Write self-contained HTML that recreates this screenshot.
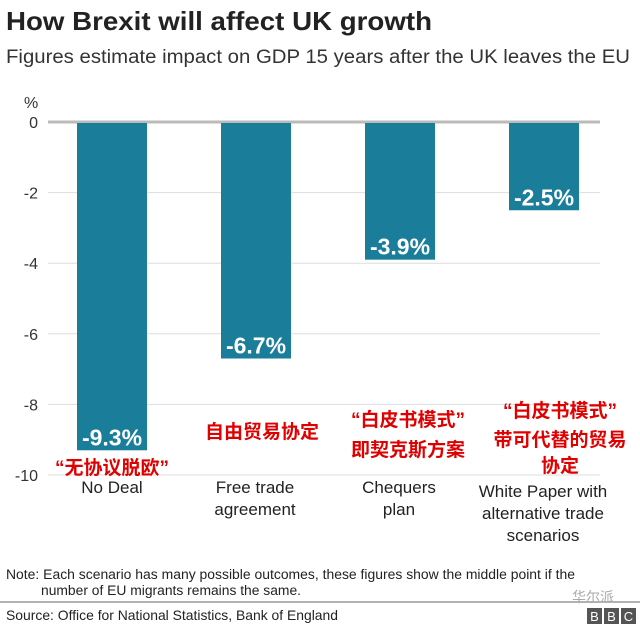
<!DOCTYPE html>
<html><head><meta charset="utf-8">
<style>
body{margin:0;background:#fff;width:640px;height:630px;overflow:hidden;font-family:"Liberation Sans","Noto Sans CJK SC",sans-serif;}
svg text{font-family:"Liberation Sans","Noto Sans CJK SC",sans-serif;}
</style></head>
<body>
<svg id="c" width="640" height="630">
<text x="6" y="30" font-size="26" font-weight="bold" fill="#222" textLength="426" lengthAdjust="spacingAndGlyphs">How Brexit will affect UK growth</text>
<text x="6" y="63" font-size="19" fill="#333" textLength="624" lengthAdjust="spacingAndGlyphs">Figures estimate impact on GDP 15 years after the UK leaves the EU</text>
<text x="24" y="108" font-size="16" fill="#333">%</text>
<g id="grid"></g>
<g id="bars"></g>
<g fill="#e00000" font-size="19" font-weight="bold">
<text x="112" y="474" text-anchor="middle">“无协议脱欧”</text>
<text x="262" y="438" text-anchor="middle">自由贸易协定</text>
<text x="408" y="426" text-anchor="middle">“白皮书模式”</text>
<text x="408" y="456" text-anchor="middle">即契克斯方案</text>
<text x="560" y="417" text-anchor="middle">“白皮书模式”</text>
<text x="560" y="446" text-anchor="middle">带可代替的贸易</text>
<text x="560" y="472" text-anchor="middle">协定</text>
</g>
<g font-size="17" fill="#222" text-anchor="middle">
<text x="112" y="493">No Deal</text>
<text x="255" y="493">Free trade</text>
<text x="255" y="515">agreement</text>
<text x="399" y="493">Chequers</text>
<text x="399" y="515">plan</text>
<text x="543" y="497">White Paper with</text>
<text x="543" y="519">alternative trade</text>
<text x="543" y="541">scenarios</text>
</g>
<text x="6" y="579" font-size="13.5" fill="#222" textLength="569" lengthAdjust="spacingAndGlyphs">Note: Each scenario has many possible outcomes, these figures show the middle point if the</text>
<text x="41" y="595" font-size="13.5" fill="#222" textLength="260" lengthAdjust="spacingAndGlyphs">number of EU migrants remains the same.</text>
<line x1="0" y1="602" x2="640" y2="602" stroke="#999" stroke-width="1.5"/>
<text x="6" y="620" font-size="14" fill="#222" textLength="332" lengthAdjust="spacingAndGlyphs">Source: Office for National Statistics, Bank of England</text>
<text x="572" y="602" font-size="14" fill="#aaa">华尔派</text>
<g>
<rect x="587" y="608" width="15" height="16" fill="#555"/><text x="594.5" y="621" font-size="13" fill="#fff" text-anchor="middle">B</text>
<rect x="604" y="608" width="15" height="16" fill="#555"/><text x="611.5" y="621" font-size="13" fill="#fff" text-anchor="middle">B</text>
<rect x="621" y="608" width="15" height="16" fill="#555"/><text x="628.5" y="621" font-size="13" fill="#fff" text-anchor="middle">C</text>
</g>
</svg>
<script>
const categories=["No Deal","Free trade agreement","Chequers plan","White Paper with alternative trade scenarios"];
const values=[-9.3,-6.7,-3.9,-2.5];
const valueLabels=["-9.3%","-6.7%","-3.9%","-2.5%"];
const ticks=[0,-2,-4,-6,-8,-10];
const NS="http://www.w3.org/2000/svg";
function y(v){return 122+(-v)*35.3;}
function xc(i){return 112+i*144;}
const grid=document.getElementById('grid'),bars=document.getElementById('bars');
ticks.forEach(t=>{
 const l=document.createElementNS(NS,'line');
 
 
 l.setAttribute('x1',48);l.setAttribute('x2',600);l.setAttribute('y1',y(t));l.setAttribute('y2',y(t));
 l.setAttribute('stroke',t===0?'#bbb':'#ddd');l.setAttribute('stroke-width',t===0?3:1);
 grid.appendChild(l);
 const tx=document.createElementNS(NS,'text');
 
 
 tx.setAttribute('x',38);tx.setAttribute('y',y(t)+6);tx.setAttribute('text-anchor','end');
 tx.setAttribute('font-size','16');tx.setAttribute('fill','#333');tx.textContent=t;
 grid.appendChild(tx);
});
values.forEach((v,i)=>{
 const r=document.createElementNS(NS,'rect');
 
 
 r.setAttribute('x',xc(i)-35);r.setAttribute('width',70);r.setAttribute('y',y(0)+1);
 r.setAttribute('height',y(v)-y(0)-1);r.setAttribute('fill','#1a7d9a');
 bars.appendChild(r);
 const t=document.createElementNS(NS,'text');
 
 
 t.setAttribute('x',xc(i));t.setAttribute('y',y(v)-5);t.setAttribute('text-anchor','middle');
 t.setAttribute('font-size','23');t.setAttribute('font-weight','bold');t.setAttribute('fill','#fff');
 t.textContent=valueLabels[i];
 bars.appendChild(t);
});
</script>
</body></html>
